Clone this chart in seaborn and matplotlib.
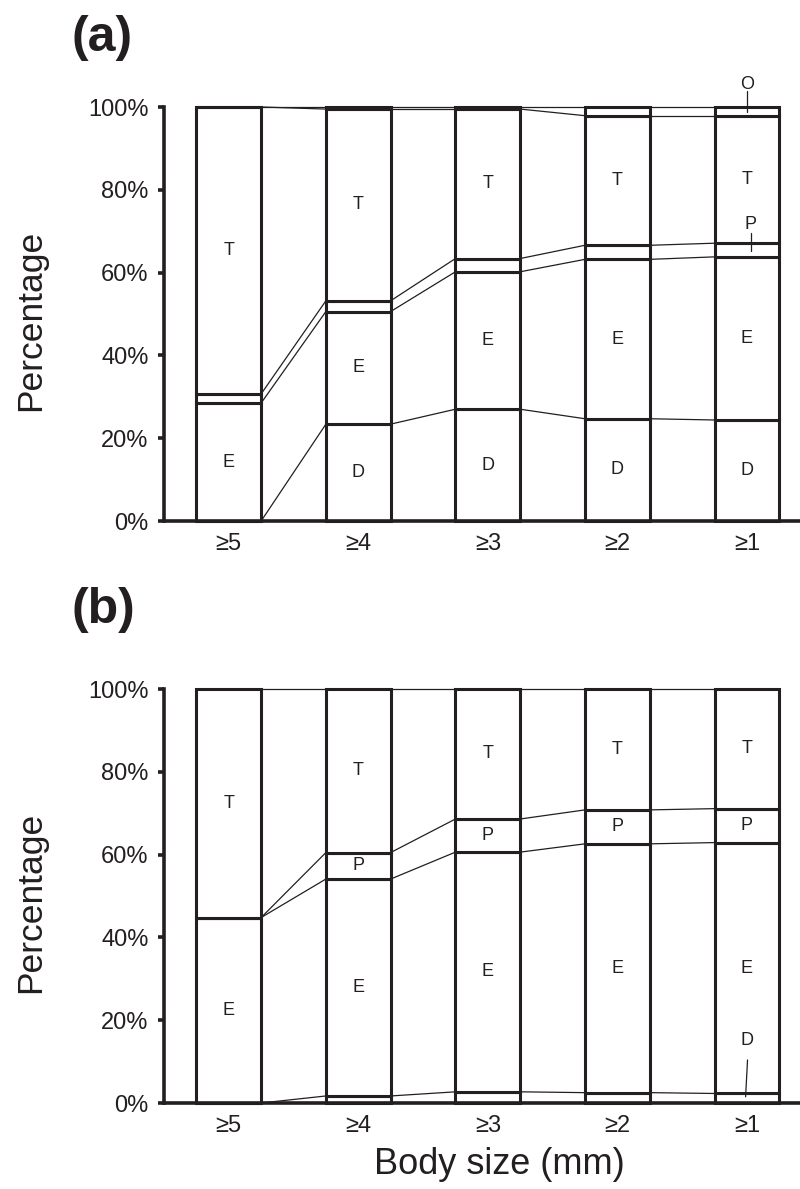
import numpy as np
import matplotlib
matplotlib.use("Agg")
import matplotlib.pyplot as plt
import seaborn as sns

# ---------------- data ----------------
sizes = ["≥5", "≥4", "≥3", "≥2", "≥1"]
groups = ["D", "E", "P", "T", "O"]

# panel (a) – percentages per group
a_D = [0.0, 23.4, 27.0, 24.7, 24.4]
a_E = [28.5, 27.2, 33.2, 38.5, 39.4]
a_P = [2.2, 2.6, 3.2, 3.4, 3.3]
a_T = [69.3, 46.3, 36.1, 31.3, 30.8]
a_O = [0.0, 0.5, 0.5, 2.1, 2.1]

# panel (b) – percentages per group
b_D = [0.0, 1.7, 2.7, 2.5, 2.3]
b_E = [44.8, 52.4, 57.9, 60.1, 60.6]
b_P = [0.0, 6.4, 8.0, 8.2, 8.2]
b_T = [55.2, 39.5, 31.4, 29.2, 28.9]

y_ticks = [0, 20, 40, 60, 80, 100]
y_ticklabels = ["0%", "20%", "40%", "60%", "80%", "100%"]

# ---------------- style ----------------
sns.set_style("ticks")
plt.rcParams["font.family"] = ["Liberation Sans", "DejaVu Sans"]
INK = "#231f20"

W, H = 800, 1189
fig = plt.figure(figsize=(W / 100, H / 100), dpi=100)


def rect(left, right, top, bottom):
    return [left / W, 1 - bottom / H, (right - left) / W, (bottom - top) / H]


ax_a = fig.add_axes(rect(164, 800, 107, 521))
ax_b = fig.add_axes(rect(164, 800, 689, 1103))

BAR_W = 0.5


def draw_panel(ax, layers):
    n = len(sizes)
    bottom = np.zeros(n)
    tops = []
    for name, vals in layers:
        vals = np.asarray(vals, dtype=float)
        sns.barplot(x=sizes, y=vals, bottom=bottom, width=BAR_W, color="white",
                    saturation=1, edgecolor=INK, linewidth=2.2, errorbar=None,
                    ax=ax, clip_on=False, zorder=2)
        for i, v in enumerate(vals):
            if v >= 5:
                ax.text(i, bottom[i] + v / 2, name, ha="center", va="center",
                        fontsize=13, color=INK, zorder=5)
        bottom = bottom + vals
        tops.append(bottom.copy())
    hw = BAR_W / 2
    for c in tops:
        for i in range(n - 1):
            ax.plot([i + hw, i + 1 - hw], [c[i], c[i + 1]], color=INK, lw=0.9,
                    solid_capstyle="butt", zorder=1, clip_on=False)


draw_panel(ax_a, [("D", a_D), ("E", a_E), ("P", a_P), ("T", a_T), ("O", a_O)])
draw_panel(ax_b, [("D", b_D), ("E", b_E), ("P", b_P), ("T", b_T)])

# small-segment call-outs
ax_a.text(4.0, 105.5, "O", ha="center", va="center", fontsize=13, color=INK, clip_on=False)
ax_a.plot([4.0, 4.0], [103.8, 98.9], color=INK, lw=0.9, clip_on=False, zorder=6)
ax_a.text(4.03, 71.5, "P", ha="center", va="center", fontsize=13, color=INK)
ax_a.plot([4.03, 4.03], [69.6, 65.3], color=INK, lw=0.9, zorder=6)
ax_b.text(4.0, 15.2, "D", ha="center", va="center", fontsize=13, color=INK)
ax_b.plot([4.005, 3.99], [10.4, 1.5], color=INK, lw=0.9, zorder=6)

for ax in (ax_a, ax_b):
    ax.set_xlim(-0.5, 4.41)
    ax.set_ylim(0, 100)
    ax.set_yticks(y_ticks)
    ax.set_yticklabels(y_ticklabels)
    sns.despine(ax=ax)
    for s in ("left", "bottom"):
        ax.spines[s].set_linewidth(2.6)
        ax.spines[s].set_color(INK)
    ax.tick_params(axis="y", length=4, width=2.6, pad=7, labelsize=17,
                   colors=INK, direction="out")
    ax.tick_params(axis="x", length=0, pad=9, labelsize=17, colors=INK)
    ax.set_ylabel("Percentage", fontsize=25.5, color=INK, va="baseline")
    ax.yaxis.set_label_coords(-0.195, 0.485)
    ax.set_xlabel("")
    ax.set_facecolor("white")

ax_b.set_xlabel("Body size (mm)", fontsize=26, color=INK, va="baseline")
ax_b.xaxis.set_label_coords(0.527, -0.1715)

fig.text(72 / W, 1 - 51 / H, "(a)", fontsize=36, fontweight="bold",
         color=INK, ha="left", va="baseline")
fig.text(72 / W, 1 - 623 / H, "(b)", fontsize=36, fontweight="bold",
         color=INK, ha="left", va="baseline")

fig.savefig("out.png", dpi=100, facecolor="white")
